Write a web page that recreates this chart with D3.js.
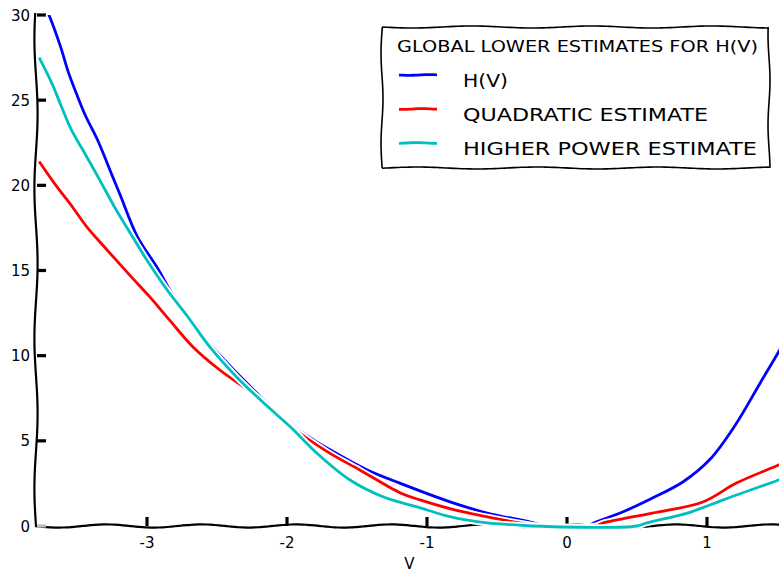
<!DOCTYPE html>
<html>
<head>
<meta charset="utf-8">
<script src="https://cdn.jsdelivr.net/npm/d3@7"></script>
<style>
  body { margin: 0; background: #fff; }
  text { font-family: "DejaVu Sans", sans-serif; fill: #000; }
</style>
</head>
<body>
<svg id="chart" width="779" height="573"></svg>
<script>
// values
var hV = [-3.8, -3.7, -3.62, -3.56, -3.5, -3.44, -3.35, -3.25, -3.19, -3.07, -2.93, -2.81, -2.65, -2.5, -2.24, -1.98, -1.8, -1.69, -1.43, -1.19, -0.83, -0.57, -0.26, -0.15, 0.15, 0.19, 0.38, 0.6, 0.83, 1.02, 1.2, 1.38, 1.51, 1.55];
var hY = [31.8, 30.0, 28.2, 26.6, 25.3, 24.1, 22.6, 20.6, 19.4, 17.0, 15.2, 13.5, 11.6, 10.2, 8.0, 6.0, 5.0, 4.46, 3.3, 2.5, 1.4, 0.76, 0.23, 0, 0, 0.18, 0.76, 1.6, 2.6, 3.9, 5.9, 8.4, 10.2, 10.8];

var quadV = [-3.77, -3.66, -3.53, -3.43, -3.29, -3.12, -2.98, -2.84, -2.67, -2.48, -2.2, -1.98, -1.71, -1.48, -1.19, -1.05, -0.83, -0.57, -0.34, -0.2, 0.2, 0.26, 0.61, 0.97, 1.21, 1.51, 1.55];
var quadY = [21.4, 20.1, 18.7, 17.56, 16.25, 14.7, 13.45, 12.1, 10.5, 9.16, 7.5, 5.9, 4.35, 3.29, 1.94, 1.53, 1.0, 0.53, 0.18, 0, 0, 0.18, 0.76, 1.41, 2.52, 3.58, 3.75];

var highV = [-3.77, -3.68, -3.61, -3.54, -3.46, -3.35, -3.23, -3.12, -3.0, -2.86, -2.71, -2.55, -2.36, -2.15, -1.96, -1.79, -1.55, -1.31, -1.07, -0.83, -0.57, -0.34, -0.25, 0.5, 0.57, 0.86, 1.02, 1.21, 1.51, 1.55];
var highY = [27.5, 26.0, 24.6, 23.25, 22.1, 20.5, 18.7, 17.2, 15.6, 13.9, 12.3, 10.5, 8.75, 7.1, 5.7, 4.3, 2.7, 1.7, 1.12, 0.53, 0.18, 0.05, 0, 0, 0.18, 0.76, 1.23, 1.82, 2.7, 2.85];

var seriesNames = ["H(V)", "QUADRATIC ESTIMATE", "HIGHER POWER ESTIMATE"];
var seriesColors = ["#0000ff", "#ff0000", "#00bfbf"];
var xTicks = [-3, -2, -1, 0, 1];
var yTicks = [0, 5, 10, 15, 20, 25, 30];
var legendTitle = "GLOBAL LOWER ESTIMATES FOR H(V)";
var xLabel = "V";

var svg = d3.select("#chart");

var x = d3.scaleLinear().domain([-3.8, 1.55]).range([35, 784]);
var y = d3.scaleLinear().domain([0, 30]).range([526, 15]);

// hand drawn looking line between two points
function wobble(x1, y1, x2, y2, amp, period, phase) {
    var len = Math.hypot(x2 - x1, y2 - y1);
    var n = Math.max(2, Math.round(len / 4));
    var nx = -(y2 - y1) / len, ny = (x2 - x1) / len;
    var pts = [];
    for (var i = 0; i <= n; i++) {
        var t = i / n;
        var off = amp * Math.sin(2 * Math.PI * t * len / period + phase);
        pts.push([x1 + (x2 - x1) * t + nx * off, y1 + (y2 - y1) * t + ny * off]);
    }
    return d3.line().curve(d3.curveBasis)(pts);
}

svg.append("defs").append("clipPath").attr("id", "plot")
    .append("rect").attr("x", 35).attr("y", 15).attr("width", 760).attr("height", 520);

// spines
svg.append("path")
    .attr("d", wobble(36, 13, 36, 527, 1.6, 150, 0.5))
    .attr("fill", "none").attr("stroke", "#000").attr("stroke-width", 2.2);
svg.append("path")
    .attr("d", wobble(35, 526, 790, 526, 1.6, 95, 0))
    .attr("fill", "none").attr("stroke", "#000").attr("stroke-width", 2.2);

// ticks
svg.selectAll(".ytick").data(yTicks).enter().append("line")
    .attr("x1", 37).attr("x2", 46)
    .attr("y1", function (d) { return y(d); })
    .attr("y2", function (d) { return y(d); })
    .attr("stroke", function (d) { return d === 0 ? "#bbb" : "#000"; })
    .attr("stroke-width", 3.2);

svg.selectAll(".xtick").data(xTicks).enter().append("line")
    .attr("x1", function (d) { return x(d); })
    .attr("x2", function (d) { return x(d); })
    .attr("y1", 517).attr("y2", 526)
    .attr("stroke", "#000").attr("stroke-width", 3.2);

svg.selectAll(".ylab").data(yTicks).enter().append("text")
    .attr("x", 30)
    .attr("y", function (d) { return y(d) + 5.5; })
    .attr("text-anchor", "end")
    .attr("font-size", 15)
    .text(function (d) { return d; });

svg.selectAll(".xlab").data(xTicks).enter().append("text")
    .attr("x", function (d) { return x(d); })
    .attr("y", 548)
    .attr("text-anchor", "middle")
    .attr("font-size", 15)
    .text(function (d) { return d; });

svg.append("text")
    .attr("x", (x.range()[0] + x.range()[1]) / 2)
    .attr("y", 569)
    .attr("text-anchor", "middle")
    .attr("font-size", 15)
    .text(xLabel);

// curves
var series = [
    { v: hV, val: hY },
    { v: quadV, val: quadY },
    { v: highV, val: highY }
];

var line = d3.line()
    .x(function (d) { return x(d[0]); })
    .y(function (d) { return y(d[1]); })
    .curve(d3.curveCatmullRom.alpha(0.5));

var plot = svg.append("g").attr("clip-path", "url(#plot)");

series.forEach(function (s, i) {
    var pts = s.v.map(function (v, j) { return [v, s.val[j]]; });
    plot.append("path")
        .attr("d", line(pts))
        .attr("fill", "none")
        .attr("stroke", "#fff")
        .attr("stroke-width", 6.5)
        .attr("stroke-linejoin", "round");
    plot.append("path")
        .attr("d", line(pts))
        .attr("fill", "none")
        .attr("stroke", seriesColors[i])
        .attr("stroke-width", 2.8)
        .attr("stroke-linejoin", "round");
});

// legend
var lg = svg.append("g");
var bx0 = 382, by0 = 27, bx1 = 769, by1 = 168;
var boxPath = wobble(bx0, by0, bx1, by0, 1, 120, 0) +
    wobble(bx1, by0, bx1, by1, 1, 90, 1) +
    wobble(bx1, by1, bx0, by1, 1, 120, 2) +
    wobble(bx0, by1, bx0, by0, 1, 90, 3);
lg.append("rect")
    .attr("x", bx0).attr("y", by0)
    .attr("width", bx1 - bx0).attr("height", by1 - by0)
    .attr("fill", "#fff");
lg.append("path")
    .attr("d", boxPath)
    .attr("fill", "none").attr("stroke", "#000").attr("stroke-width", 1.6);

lg.append("text")
    .attr("x", 397).attr("y", 52)
    .attr("font-size", 16)
    .attr("textLength", 361)
    .attr("lengthAdjust", "spacingAndGlyphs")
    .text(legendTitle);

var itemY = [75, 109, 143];
var itemW = [45, 245, 294];
seriesNames.forEach(function (name, i) {
    lg.append("path")
        .attr("d", wobble(399, itemY[i], 437, itemY[i], 0.4, 40, i))
        .attr("fill", "none")
        .attr("stroke", seriesColors[i])
        .attr("stroke-width", 2.8);
    lg.append("text")
        .attr("x", 463).attr("y", itemY[i] + 12)
        .attr("font-size", 18)
        .attr("textLength", itemW[i])
        .attr("lengthAdjust", "spacingAndGlyphs")
        .text(name);
});
</script>
</body>
</html>
